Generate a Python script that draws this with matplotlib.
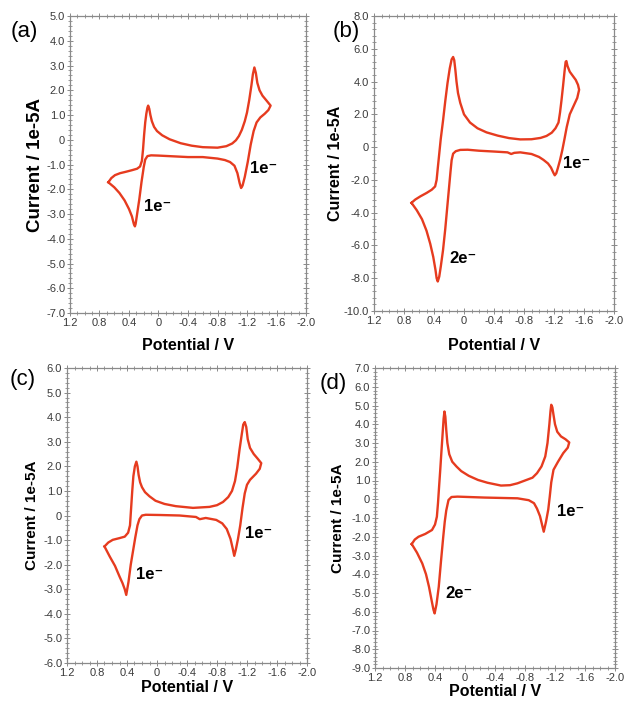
import matplotlib
matplotlib.use('Agg')
import matplotlib.pyplot as plt
from matplotlib.ticker import MultipleLocator, FuncFormatter

plt.rcParams['font.family'] = ['Liberation Sans', 'DejaVu Sans']

# cyclic voltammograms, potential (V) and current (1e-5 A), one closed loop each
pot_a = [0.68, 0.64, 0.59, 0.52, 0.45, 0.36, 0.29, 0.25, 0.225, 0.21, 0.195, 0.18, 0.165, 0.15, 0.14,
         0.125, 0.11, 0.09, 0.06, 0.02, -0.05, -0.15, -0.3, -0.45, -0.6, -0.8, -0.92, -1.0, -1.05,
         -1.09, -1.13, -1.17, -1.2, -1.23, -1.26, -1.28, -1.30, -1.32, -1.34, -1.37, -1.41, -1.46, -1.52,
         -1.49, -1.44, -1.38, -1.33, -1.29, -1.25, -1.21, -1.17, -1.14, -1.12, -1.10, -1.07, -1.03,
         -0.97, -0.9, -0.8, -0.6, -0.4, -0.2, 0.0, 0.1, 0.15, 0.18, 0.2, 0.23, 0.26, 0.29, 0.31, 0.32,
         0.335, 0.36, 0.40, 0.46, 0.53, 0.60, 0.68]
cur_a = [-1.72, -1.55, -1.43, -1.35, -1.3, -1.23, -1.17, -1.08, -0.85, -0.4, 0.2, 0.7, 1.05, 1.3, 1.38,
         1.25, 1.0, 0.75, 0.52, 0.35, 0.18, 0.02, -0.14, -0.24, -0.3, -0.32, -0.26, -0.15, -0.02,
         0.15, 0.4, 0.75, 1.1, 1.6, 2.2, 2.65, 2.92, 2.7, 2.3, 2.0, 1.78, 1.6, 1.38,
         1.2, 1.05, 0.9, 0.7, 0.35, -0.2, -0.9, -1.5, -1.85, -1.95, -1.75, -1.35, -1.05,
         -0.9, -0.82, -0.76, -0.7, -0.7, -0.67, -0.64, -0.63, -0.66, -0.8, -1.1, -1.7, -2.4, -3.0, -3.4, -3.5,
         -3.4, -3.1, -2.8, -2.45, -2.15, -1.92, -1.72]

pot_b = [0.70, 0.65, 0.58, 0.5, 0.43, 0.385, 0.365, 0.35, 0.33, 0.31, 0.28, 0.25, 0.22, 0.19, 0.165,
         0.145, 0.13, 0.115, 0.1, 0.08, 0.05, 0.0, -0.08, -0.18, -0.3, -0.45, -0.6, -0.75, -0.9, -1.02,
         -1.1, -1.17, -1.22, -1.26, -1.28, -1.30, -1.32, -1.34, -1.355, -1.365, -1.38, -1.41, -1.45,
         -1.49, -1.52, -1.535, -1.51, -1.48, -1.455, -1.41, -1.37, -1.34, -1.31, -1.28, -1.25, -1.23,
         -1.21, -1.19, -1.16, -1.12, -1.06, -1.0, -0.9, -0.75, -0.67, -0.63, -0.58, -0.4, -0.2, -0.05,
         0.05, 0.11, 0.145, 0.165, 0.18, 0.2, 0.22, 0.25, 0.28, 0.31, 0.33, 0.35, 0.365, 0.38, 0.41,
         0.45, 0.5, 0.56, 0.63, 0.70]
cur_b = [-3.4, -3.2, -3.0, -2.8, -2.6, -2.4, -2.0, -1.3, -0.4, 0.5, 1.6, 2.8, 3.9, 4.8, 5.35,
         5.5, 5.3, 4.7, 4.0, 3.3, 2.7, 2.0, 1.5, 1.15, 0.9, 0.7, 0.55, 0.47, 0.48, 0.56,
         0.68, 0.88, 1.15, 1.5, 2.1, 2.86, 3.7, 4.6, 5.2, 5.25, 4.95, 4.6, 4.35,
         4.1, 3.8, 3.5, 3.0, 2.7, 2.45, 2.0, 1.23, 0.5, -0.2, -0.8, -1.3, -1.6,
         -1.72, -1.55, -1.25, -1.0, -0.78, -0.6, -0.42, -0.32, -0.35, -0.42, -0.32, -0.27, -0.22, -0.16,
         -0.17, -0.25, -0.4, -0.8, -1.5, -2.5, -3.5, -5.0, -6.3, -7.3, -7.9, -8.2, -8.0, -7.5, -6.7,
         -5.9, -5.1, -4.4, -3.85, -3.4]

pot_c = [0.70, 0.65, 0.59, 0.5, 0.43, 0.385, 0.36, 0.345, 0.33, 0.315, 0.295, 0.275, 0.26, 0.245,
         0.225, 0.2, 0.16, 0.1, 0.02, -0.1, -0.25, -0.48, -0.7, -0.8, -0.88, -0.95, -1.0, -1.04,
         -1.07, -1.10, -1.13, -1.15, -1.17, -1.19, -1.21, -1.24, -1.29, -1.34, -1.39, -1.37, -1.32,
         -1.24, -1.2, -1.17, -1.14, -1.11, -1.08, -1.05, -1.03, -1.01, -0.98, -0.93, -0.87, -0.79,
         -0.65, -0.57, -0.52, -0.3, -0.04, 0.15, 0.2, 0.235, 0.26, 0.29, 0.32, 0.35, 0.38, 0.41, 0.43,
         0.46, 0.5, 0.56, 0.63, 0.70]
cur_c = [-1.26, -1.1, -0.99, -0.92, -0.86, -0.7, -0.4, 0.3, 1.0, 1.6, 2.0, 2.19, 2.0, 1.65,
         1.35, 1.15, 0.95, 0.78, 0.6, 0.47, 0.38, 0.31, 0.35, 0.42, 0.55, 0.75, 1.0, 1.4,
         1.95, 2.67, 3.3, 3.7, 3.8, 3.6, 3.1, 2.75, 2.5, 2.32, 2.13, 1.9, 1.7,
         1.45, 1.25, 0.9, 0.3, -0.4, -0.95, -1.4, -1.64, -1.35, -0.95, -0.55, -0.32, -0.18,
         -0.1, -0.15, -0.06, 0.0, 0.02, 0.03, 0.0, -0.15, -0.4, -0.9, -1.45, -2.0, -2.7, -3.23, -3.0,
         -2.75, -2.48, -2.05, -1.67, -1.26]

pot_d = [0.71, 0.67, 0.62, 0.53, 0.44, 0.4, 0.375, 0.36, 0.345, 0.33, 0.315, 0.30, 0.285, 0.274,
         0.262, 0.25, 0.235, 0.21, 0.17, 0.112, 0.05, -0.05, -0.173, -0.3, -0.48, -0.6, -0.7, -0.8,
         -0.9, -0.96, -1.02, -1.07, -1.1, -1.125, -1.14, -1.15, -1.165, -1.18, -1.2, -1.23, -1.28,
         -1.34, -1.39, -1.37, -1.31, -1.24, -1.18, -1.15, -1.13, -1.11, -1.08, -1.05, -1.03, -1.0,
         -0.96, -0.92, -0.85, -0.70, -0.26, 0.1, 0.18, 0.22, 0.25, 0.27, 0.29, 0.32, 0.35, 0.38,
         0.405, 0.42, 0.44, 0.48, 0.52, 0.57, 0.64, 0.71]
cur_d = [-2.39, -2.15, -2.0, -1.85, -1.64, -1.35, -0.93, -0.2, 0.7, 1.57, 2.5, 3.4, 4.3, 4.68,
         4.4, 3.7, 3.0, 2.4, 2.0, 1.74, 1.5, 1.25, 1.03, 0.88, 0.73, 0.75, 0.85, 1.0,
         1.15, 1.39, 1.75, 2.28, 3.0, 4.0, 4.7, 5.04, 4.9, 4.5, 4.0, 3.6, 3.35,
         3.2, 3.03, 2.75, 2.46, 2.0, 1.57, 0.9, 0.14, -0.55, -1.2, -1.73, -1.4, -0.9,
         -0.5, -0.21, -0.05, 0.05, 0.09, 0.14, 0.12, -0.04, -0.6, -1.2, -2.0, -3.3, -4.67, -5.6,
         -6.09, -5.9, -5.5, -4.67, -4.0, -3.42, -2.85, -2.39]

panels = ['(a)', '(b)', '(c)', '(d)']
y_limits = [(-7.0, 5.0), (-10.0, 8.0), (-6.0, 6.0), (-9.0, 7.0)]
y_steps = [1.0, 2.0, 1.0, 1.0]
notes = [[('1e\u207b', 0.20, -2.7), ('1e\u207b', -1.24, -1.15)],
         [('2e\u207b', 0.20, -6.8), ('1e\u207b', -1.32, -1.02)],
         [('1e\u207b', 0.275, -2.41), ('1e\u207b', -1.17, -0.72)],
         [('2e\u207b', 0.257, -5.03), ('1e\u207b', -1.22, -0.66)]]

W, H = 626, 707
# axes boxes in pixels: left, top, right, bottom
boxes = [(70, 16, 306, 313), (374, 16, 614, 311), (67, 368, 307, 663), (375, 368, 615, 668)]
label_pos = [(11, 31), (333, 31), (10, 379), (320, 383)]
ylab_x = [35, 335, 32, 338]
xlab_y = [345, 345, 688, 692]
ylab_size = [13.5, 11.5, 11, 11]

red = '#e63b1f'
fmt = FuncFormatter(lambda v, p: '0' if abs(v) < 1e-9 else '%.1f' % v)

fig = plt.figure(figsize=(W / 100, H / 100), dpi=100)
data = [(pot_a, cur_a), (pot_b, cur_b), (pot_c, cur_c), (pot_d, cur_d)]
for i, (pot, cur) in enumerate(data):
    l, t, r, b = boxes[i]
    ax = fig.add_axes([l / W, 1 - b / H, (r - l) / W, (b - t) / H])
    ax.plot(pot, cur, color=red, lw=1.7, solid_joinstyle='round')
    ax.set_xlim(1.2, -2.0)
    ax.set_ylim(*y_limits[i])
    ax.xaxis.set_major_locator(MultipleLocator(0.4))
    ax.xaxis.set_minor_locator(MultipleLocator(0.1))
    ax.yaxis.set_major_locator(MultipleLocator(y_steps[i]))
    ax.yaxis.set_minor_locator(MultipleLocator(y_steps[i] / 5))
    ax.xaxis.set_major_formatter(fmt)
    ax.yaxis.set_major_formatter(fmt)
    ax.tick_params(which='both', direction='inout', top=True, right=True, colors='#8a8a8a',
                   labelcolor='#3a3a3a', labelsize=8, pad=1.5)
    ax.tick_params(which='major', length=4, width=0.7)
    ax.tick_params(which='minor', length=2.5, width=0.6)
    for s in ax.spines.values():
        s.set_color('#8a8a8a')
        s.set_linewidth(0.9)
    for txt, x, y in notes[i]:
        ax.text(x, y, txt, fontsize=12, fontweight='bold', ha='left', va='center')
    cx = (l + r) / 2 / W
    cy = 1 - (t + b) / 2 / H
    fig.text(cx, 1 - xlab_y[i] / H, 'Potential / V', fontsize=11.5, fontweight='bold',
             ha='center', va='center')
    fig.text(ylab_x[i] / W, cy, 'Current / 1e-5A', fontsize=ylab_size[i], fontweight='bold',
             rotation=90, ha='center', va='center')
    fig.text(label_pos[i][0] / W, 1 - label_pos[i][1] / H, panels[i], fontsize=16,
             ha='left', va='center')

fig.savefig('out.png', dpi=100)
